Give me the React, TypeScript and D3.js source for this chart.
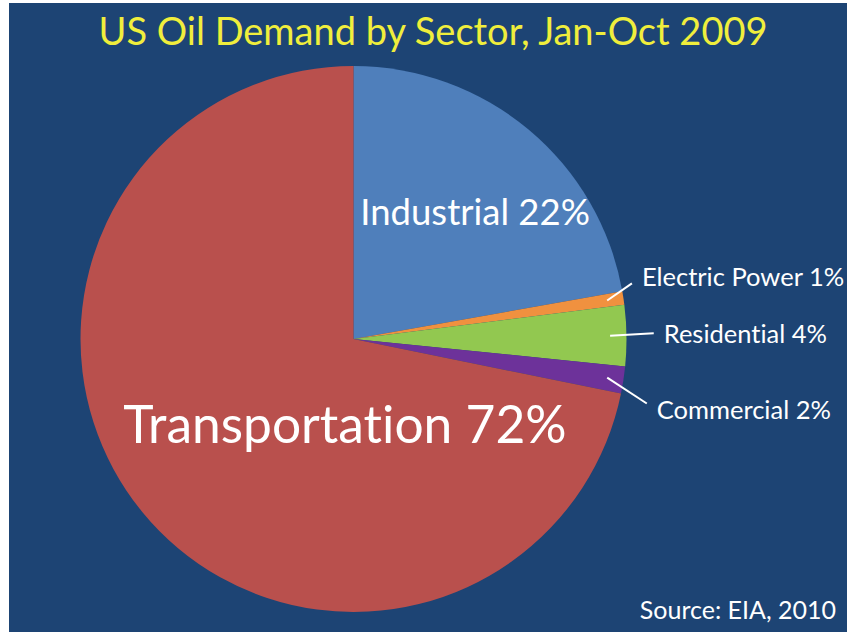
import React from 'react';
import * as d3 from 'd3';

// US oil demand by sector, Jan-Oct 2009 (share of total, %)
const sectors = ['Industrial', 'Electric Power', 'Residential', 'Commercial', 'Transportation'];
const shares = [22.2, 0.8, 3.6, 1.6, 71.8];
const shareLabels = ['22%', '1%', '4%', '2%', '72%'];
const sliceColors = ['#4f7fbb', '#f0913f', '#92c850', '#6d329a', '#b9504d'];

const width = 849;
const height = 632;
const radius = 273;
const cx = 353.5;
const cy = 339;
const font = 'Lato, "Open Sans", sans-serif';

// label placement: big labels sit inside the slice, small ones get a leader line
const inside = {
  Industrial: { angle: 46.8, k: 0.611, size: 36.5 },
  Transportation: { angle: 184.7, k: 0.383, size: 51.5 },
};
const callout = {
  'Electric Power': { angle: 78.7, k: 1.04, dy: 3 },
  Residential: { angle: 88.9, k: 1.1, dy: 9.5 },
  Commercial: { angle: 102.4, k: 1.1, dy: 16 },
};

const polar = (deg, r) => {
  const a = (deg * Math.PI) / 180;
  return [Math.sin(a) * r, -Math.cos(a) * r];
};

export default function App() {
  const pie = d3.pie().sort(null).value((d) => d.value);
  const arcs = pie(sectors.map((s, i) => ({ name: s, value: shares[i], label: shareLabels[i], color: sliceColors[i] })));
  const arc = d3.arc().innerRadius(0).outerRadius(radius);
  const leaderArc = d3.arc().innerRadius(radius * 0.94).outerRadius(radius * 0.94);
  const noLig = { fontVariantLigatures: 'none' };

  return (
    <svg width={width} height={height} style={{ position: 'absolute', left: 0, top: 0 }}>
      <rect x={0} y={0} width={width} height={height} fill="#fff" />
      <rect x={9} y={3} width={838} height={629} fill="#1d4474" />
      <text x={433} y={45} textAnchor="middle" fill="#f0ee3c" fontFamily={font} fontSize={38} style={noLig}>
        US Oil Demand by Sector, Jan-Oct 2009
      </text>
      <g transform={`translate(${cx},${cy})`}>
        {arcs.map((a) => (
          <path key={a.data.name} d={arc(a)} fill={a.data.color} />
        ))}
        {arcs.map((a) => {
          const txt = a.data.name + ' ' + a.data.label;
          if (inside[a.data.name]) {
            const p = inside[a.data.name];
            const [x, y] = polar(p.angle, radius * p.k);
            return (
              <text key={'l' + a.data.name} x={x} y={y} textAnchor="middle"
                fill="#fff" fontFamily={font} fontSize={p.size} style={noLig}>{txt}</text>
            );
          }
          const c = callout[a.data.name];
          const [x1, y1] = leaderArc.centroid(a);
          const [x2, y2] = polar(c.angle, radius * c.k);
          return (
            <g key={'l' + a.data.name}>
              <line x1={x1} y1={y1} x2={x2} y2={y2} stroke="#fff" strokeWidth={2} />
              <text x={x2 + 10} y={y2 + c.dy} fill="#fff"
                fontFamily={font} fontSize={25.5} style={noLig}>{txt}</text>
            </g>
          );
        })}
      </g>
      <text x={836} y={619} textAnchor="end" fill="#fff" fontFamily={font} fontSize={25} style={noLig}>
        Source: EIA, 2010
      </text>
    </svg>
  );
}
